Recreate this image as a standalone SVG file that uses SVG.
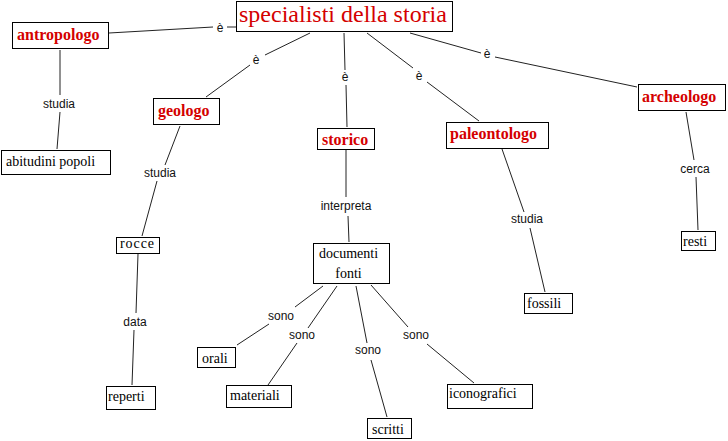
<svg xmlns="http://www.w3.org/2000/svg" width="728" height="441" viewBox="0 0 728 441">
<style>
.box{fill:#fff;stroke:#000;stroke-width:1}
.t{font-family:"Liberation Serif","Times New Roman",serif;font-size:14px;fill:#000}
.b{font-family:"Liberation Serif","Times New Roman",serif;font-size:16px;font-weight:bold;fill:#d40000}
.big{font-family:"Liberation Serif","Times New Roman",serif;font-size:24px;fill:#d40000}
.lbl{font-family:"Liberation Sans",Arial,sans-serif;font-size:12px;fill:#111;text-anchor:middle}
.c line{stroke:#222;stroke-width:1}
</style>
<rect width="728" height="441" fill="#fff"/>
<g id="connectors" class="c">
<line x1="109" y1="33" x2="213" y2="27"/><line x1="227" y1="27" x2="236" y2="27"/>
<line x1="310" y1="33" x2="265" y2="55"/><line x1="250" y1="65" x2="206" y2="97"/>
<line x1="344" y1="33" x2="345" y2="70"/><line x1="346" y1="85" x2="347" y2="127"/>
<line x1="367" y1="33" x2="413" y2="68"/><line x1="427" y1="82" x2="479" y2="121"/>
<line x1="410" y1="33" x2="481" y2="53"/><line x1="495" y1="57" x2="637" y2="87"/>
<line x1="60" y1="50" x2="60" y2="95"/><line x1="60" y1="112" x2="57" y2="149"/>
<line x1="180" y1="126" x2="165" y2="165"/><line x1="157" y1="181" x2="142" y2="236"/>
<line x1="138" y1="254" x2="136" y2="313"/><line x1="134" y1="330" x2="132" y2="385"/>
<line x1="346" y1="150" x2="346" y2="197"/><line x1="348" y1="216" x2="349" y2="242"/>
<line x1="502" y1="149" x2="524" y2="212"/><line x1="530" y1="228" x2="545" y2="292"/>
<line x1="686" y1="112" x2="694" y2="160"/><line x1="696" y1="177" x2="698" y2="230"/>
<line x1="323" y1="286" x2="295" y2="307"/><line x1="269" y1="324" x2="237" y2="345"/>
<line x1="337" y1="286" x2="308" y2="328"/><line x1="297" y1="343" x2="268" y2="385"/>
<line x1="356" y1="286" x2="367" y2="343"/><line x1="371" y1="360" x2="387" y2="417"/>
<line x1="371" y1="285" x2="408" y2="327"/><line x1="427" y1="344" x2="474" y2="383"/>
<text class="lbl" x="220" y="32">è</text>
<text class="lbl" x="256" y="64">è</text>
<text class="lbl" x="345" y="81">è</text>
<text class="lbl" x="419" y="80">è</text>
<text class="lbl" x="487" y="58">è</text>
<text class="lbl" x="59" y="108">studia</text>
<text class="lbl" x="160" y="177">studia</text>
<text class="lbl" x="135" y="326">data</text>
<text class="lbl" x="346" y="210">interpreta</text>
<text class="lbl" x="527" y="223">studia</text>
<text class="lbl" x="695" y="173">cerca</text>
<text class="lbl" x="281" y="320">sono</text>
<text class="lbl" x="302" y="339">sono</text>
<text class="lbl" x="368" y="354">sono</text>
<text class="lbl" x="416" y="339">sono</text>
</g>
<g id="n-specialisti"><rect class="box" x="236.5" y="1.5" width="216" height="30"/><text class="big" x="239" y="22">specialisti della storia</text></g>
<g id="n-antropologo"><rect class="box" x="12.5" y="22.5" width="96" height="26"/><text class="b" x="17" y="40">antropologo</text></g>
<g id="n-geologo"><rect class="box" x="153.5" y="98.5" width="66" height="26"/><text class="b" x="158" y="116">geologo</text></g>
<g id="n-storico"><rect class="box" x="317.5" y="128.5" width="57" height="21"/><text class="b" x="322" y="145">storico</text></g>
<g id="n-paleontologo"><rect class="box" x="446.5" y="122.5" width="102" height="26"/><text class="b" x="450" y="139">paleontologo</text></g>
<g id="n-archeologo"><rect class="box" x="638.5" y="84.5" width="87" height="26"/><text class="b" x="642" y="102">archeologo</text></g>
<g id="n-abitudini"><rect class="box" x="1.5" y="150.5" width="109" height="24"/><text class="t" x="6" y="166">abitudini popoli</text></g>
<g id="n-rocce"><rect class="box" x="116.5" y="237.5" width="43" height="16"/><text class="t" x="120" y="248" textLength="34">rocce</text></g>
<g id="n-reperti"><rect class="box" x="106.5" y="386.5" width="49" height="23"/><text class="t" x="108" y="401">reperti</text></g>
<g id="n-documenti"><rect class="box" x="313.5" y="243.5" width="76" height="40"/><text class="t" x="348.5" y="258" text-anchor="middle">documenti</text><text class="t" x="348.5" y="278" text-anchor="middle">fonti</text></g>
<g id="n-orali"><rect class="box" x="197.5" y="347.5" width="38" height="20"/><text class="t" x="202" y="363">orali</text></g>
<g id="n-materiali"><rect class="box" x="226.5" y="385.5" width="65" height="22"/><text class="t" x="230" y="400">materiali</text></g>
<g id="n-scritti"><rect class="box" x="367.5" y="418.5" width="44" height="20"/><text class="t" x="372" y="434">scritti</text></g>
<g id="n-iconografici"><rect class="box" x="447.5" y="384.5" width="85" height="24"/><text class="t" x="449" y="398">iconografici</text></g>
<g id="n-fossili"><rect class="box" x="524.5" y="293.5" width="48" height="20"/><text class="t" x="527" y="308">fossili</text></g>
<g id="n-resti"><rect class="box" x="681.5" y="231.5" width="34" height="19"/><text class="t" x="683" y="246">resti</text></g>
</svg>
